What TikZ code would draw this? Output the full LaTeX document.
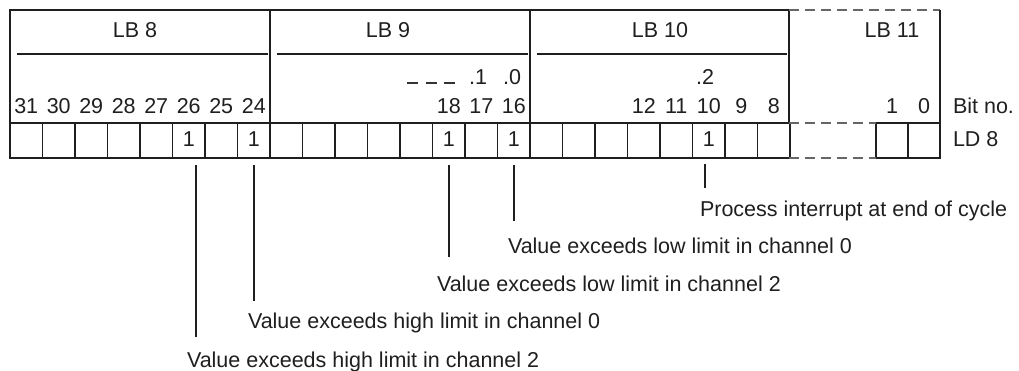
\documentclass[tikz,border=0pt]{standalone}
\usepackage{fontspec}
\setmainfont{Liberation Sans}
\begin{document}
\begin{tikzpicture}[x=1pt,y=-1pt,
  font=\fontsize{21.5}{25}\selectfont,
  every node/.style={inner sep=0pt, outer sep=0pt, text=black!88},
  frame/.style={line width=1.6pt, draw=black!88},
  dashframe/.style={line width=1.2pt, draw=black!60, dash pattern=on 10pt off 6pt},
  cell/.style={draw=black!88, line width=1.6pt, minimum width=32.5pt, minimum height=35pt, anchor=north west},
  lbl/.style={anchor=base},
  conn/.style={line width=1.5pt, draw=black!88},
  desc/.style={anchor=base west}]
\useasboundingbox (0,0) rectangle (1019,371);
% frame of the byte headers
\draw[frame] (10,123) -- (10,10) -- (789,10);
\draw[frame] (270,10) -- (270,123);
\draw[frame] (530,10) -- (530,123);
\draw[frame] (789,10) -- (789,123);
\draw[dashframe] (789,10) -- (940,10);
\draw[frame] (940,10) -- (940,123);
\draw[frame] (17,54) -- (268,54);
\draw[frame] (277,54) -- (528,54);
\draw[frame] (537,54) -- (787,54);
% byte labels
\node[lbl] (lb8) at (135,38) {LB 8};
\node[lbl] (lb9) at (388,38) {LB 9};
\node[lbl] (lb10) at (660,38) {LB 10};
\node[lbl] (lb11) at (892,38) {LB 11};
% cells
\foreach \b [count=\i from 0] in {31,...,8}
  \node[cell] (c\b) at ({10+32.5*\i},123) {};
\node[cell, minimum width=32pt] (c1) at (876,123) {};
\node[cell, minimum width=32pt] (c0) at (908,123) {};
\draw[dashframe] (789,123) -- (876,123);
\draw[dashframe] (789,158) -- (876,158);
% bit numbers
\foreach \b in {31,30,29,28,27,26,25,24,18,17,16,12,11,10,9,8,1,0}
  \node[lbl] (n\b) at (c\b.center |- 0,114) {\b};
\node[lbl] (d1) at (478,85) {.1};
\node[lbl] (d0) at (512,85) {.0};
\node[lbl] (d2) at (705,85) {.2};
\draw[line width=1.3pt, draw=black!80, dash pattern=on 11pt off 7.5pt] (407,83) -- (455,83);
\node[desc] (bitno) at (953,114) {Bit no.};
\node[desc] (ld8) at (953,147) {LD 8};
% set bits
\foreach \b in {26,24,18,16,10}
  \node[lbl] (v\b) at (c\b.center |- 0,147) {1};
% descriptions
\node[desc] (t10) at (700,217) {Process interrupt at end of cycle};
\node[desc] (t16) at (508,254) {Value exceeds low limit in channel 0};
\node[desc] (t18) at (437,291) {Value exceeds low limit in channel 2};
\node[desc] (t24) at (248,328) {Value exceeds high limit in channel 0};
\node[desc] (t26) at (187,367) {Value exceeds high limit in channel 2};
% connectors
\coordinate (e26) at ([xshift=7pt]c26.south |- 0,337);
\coordinate (e24) at (c24.south |- 0,301);
\coordinate (e18) at (c18.south |- 0,257);
\coordinate (e16) at (c16.south |- 0,221);
\coordinate (e10) at ([xshift=-4pt]c10.south |- 0,188);
\draw[conn] ([xshift=7pt,yshift=-7pt]c26.south) -- (e26);
\draw[conn] ([yshift=-7pt]c24.south) -- (e24);
\draw[conn] ([yshift=-7pt]c18.south) -- (e18);
\draw[conn] ([yshift=-7pt]c16.south) -- (e16);
\draw[conn] ([xshift=-4pt,yshift=-6pt]c10.south) -- (e10);
\end{tikzpicture}
\end{document}
